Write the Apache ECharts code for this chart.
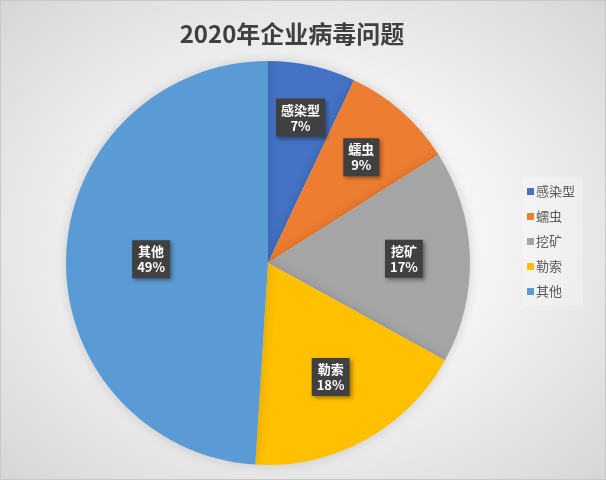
<!DOCTYPE html>
<html>
<head>
<meta charset="utf-8">
<script src="https://cdn.jsdelivr.net/npm/echarts@6/dist/echarts.min.js"></script>
<style>
  html, body { margin: 0; padding: 0; }
  .pie {
    width: 606px; height: 480px; box-sizing: border-box;
    border: 1px solid #c8c8c8;
    background: radial-gradient(ellipse at 50% 50%, #ffffff 0%, #f4f4f4 45%, #d6d6d6 100%);
  }
</style>
</head>
<body>
<div class="pie"></div>
<script>
// 数据
var names = ['感染型', '蠕虫', '挖矿', '勒索', '其他'];
var values = [7, 9, 17, 18, 49];
var colors = ['#4472C4', '#ED7D31', '#A5A5A5', '#FFC000', '#5B9BD5'];

(function () {
  var myChart = echarts.init(document.querySelector(".pie"))

  var data = names.map(function (n, i) {
    return { name: n, value: values[i] }
  })

  // 标签离圆心的距离 (像素)
  var labelDist = [146, 138, 133, 127, 114]
  var R = 202

  var series = [
    {
      name: '病毒',
      type: 'pie',
      center: [267, 262],
      radius: [0, R],
      startAngle: 90,
      clockwise: true,
      data: data,
      label: { show: false },
      labelLine: { show: false },
      itemStyle: {
        shadowBlur: 12,
        shadowColor: 'rgba(0,0,0,0.15)'
      },
      emphasis: { scale: false }
    }
  ]

  // 每个标签一个透明层，用内半径控制标签位置
  names.forEach(function (n, k) {
    series.push({
      name: '标签' + k,
      type: 'pie',
      center: [267, 262],
      radius: [2 * labelDist[k] - R, R],
      startAngle: 90,
      silent: true,
      data: names.map(function (m, i) {
        return { name: m, value: values[i], label: { show: i === k } }
      }),
      itemStyle: { color: 'transparent' },
      labelLine: { show: false },
      label: {
        position: 'inside',
        formatter: function (p) {
          return p.name + '\n' + p.value + '%'
        },
        color: '#ffffff',
        fontFamily: 'Noto Sans CJK SC',
        fontWeight: 'bold',
        fontSize: 13,
        lineHeight: 16,
        backgroundColor: '#404040',
        padding: [3, 5],
        shadowBlur: 4,
        shadowOffsetX: 2,
        shadowOffsetY: 2,
        shadowColor: 'rgba(0,0,0,0.4)'
      }
    })
  })

  var option = {
    color: colors,
    title: {
      text: '2020年企业病毒问题',
      left: 286,
      top: 16,
      textAlign: 'center',
      textStyle: {
        fontFamily: 'Noto Sans CJK SC',
        fontSize: 24,
        fontWeight: 'bold',
        color: '#404040'
      }
    },
    legend: {
      data: names,
      orient: 'vertical',
      left: 522,
      top: 176,
      itemWidth: 7,
      itemHeight: 7,
      itemGap: 12,
      icon: 'rect',
      padding: [8, 8, 8, 4],
      backgroundColor: 'rgba(255,255,255,0.25)',
      textStyle: {
        fontFamily: 'Noto Sans CJK SC',
        fontSize: 13,
        color: '#595959',
        padding: [0, 0, 0, -3]
      }
    },
    series: series
  }

  myChart.setOption(option)
  window.addEventListener("resize", function () {
    myChart.resize()
  })
})();
</script>
</body>
</html>
